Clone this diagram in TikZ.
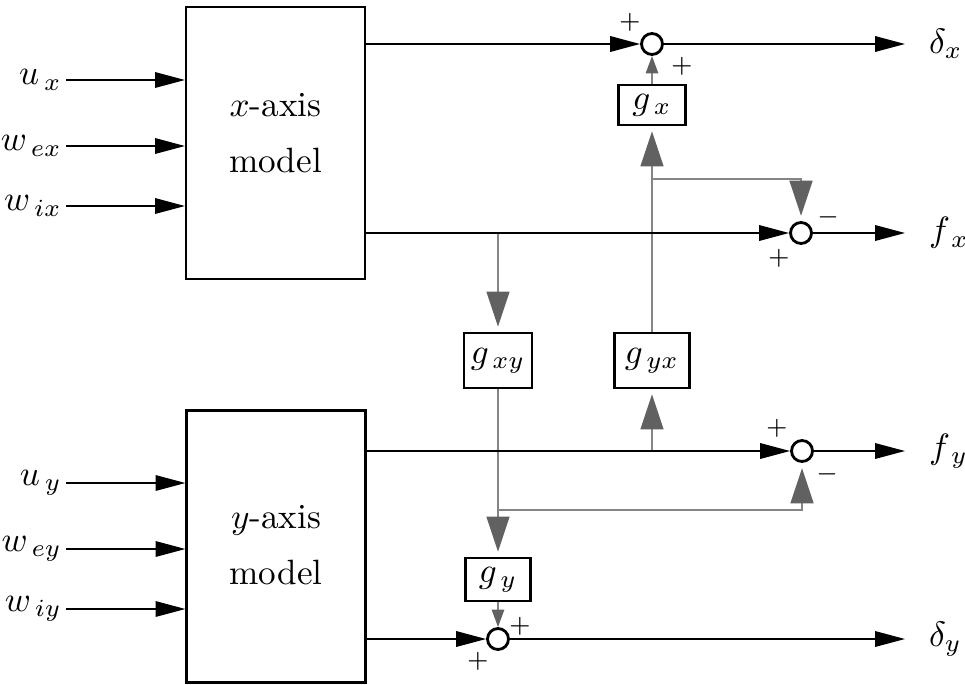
\documentclass[tikz,border=0pt]{standalone}
\usepackage{amsmath}
\usepackage{xcolor}
\usepackage{tikz}
\usetikzlibrary{arrows.meta, positioning, calc}

\definecolor{wiregray}{gray}{0.52}
\definecolor{tipgray}{gray}{0.38}

\tikzset{
  model/.style={draw, line width=0.6pt, minimum width=1.79cm,
    minimum height=2.72cm, inner sep=0pt},
  gain/.style={draw, line width=0.6pt, minimum height=0.55cm, inner sep=0pt},
  sumpt/.style={draw, circle, line width=0.8pt, minimum size=2.1mm, inner sep=0pt},
  sign/.style={font=\fontsize{7}{8}\selectfont, inner sep=0pt},
  inlab/.style={anchor=east, inner sep=1pt},
  outlab/.style={anchor=west, inner sep=1pt},
  blkwire/.style={line width=0.5pt, -{Triangle[length=8.5pt, width=4.4pt]}},
  graywire/.style={wiregray, line width=0.6pt, shorten >=1.5pt,
    -{Triangle[length=10pt, width=6.5pt, color=tipgray]}},
  smallwire/.style={wiregray, line width=0.6pt,
    -{Triangle[length=5pt, width=3.5pt, color=tipgray]}},
}

\begin{document}
\begin{tikzpicture}
  \useasboundingbox (0,0) rectangle (9.65,-6.84);

  %% Axis models
  \node[model] (xmod) at (2.755,-1.43) {};
  \node[align=center] (xtxt) at (2.755,-1.33) {$x$-axis\\[4pt]model};
  \node[model] (ymod) at (2.76,-5.465) {};
  \node[align=center] (ytxt) at (2.76,-5.45) {$y$-axis\\[4pt]model};

  %% Inputs
  \foreach \lab/\nm/\yy in {u_{\,x}/ux/0.80, w_{\,ex}/wex/1.46, w_{\,ix}/wix/2.06}{
    \node[inlab] (\nm) at (0.66,-\yy) {$\lab$};
    \draw[blkwire] (\nm) -- (\nm -| xmod.west);
  }
  \foreach \lab/\nm/\yy in {u_{\,y}/uy/4.83, w_{\,ey}/wey/5.49, w_{\,iy}/wiy/6.09}{
    \node[inlab] (\nm) at (0.66,-\yy) {$\lab$};
    \draw[blkwire] (\nm) -- (\nm -| ymod.west);
  }

  %% Summing junctions
  \node[sumpt] (s1) at (6.52,-0.44) {};
  \node[sumpt] (s2) at (8.01,-2.33) {};
  \node[sumpt] (s3) at (8.02,-4.51) {};
  \node[sumpt] (s4) at (4.98,-6.39) {};

  %% Gains
  \node[gain, minimum width=0.67cm, minimum height=0.40cm] (gx) at (6.52,-1.05) {$g_{\,x}$};
  \node[gain, minimum width=0.68cm] (gxy) at (4.98,-3.605) {$g_{\,xy}$};
  \node[gain, minimum width=0.75cm] (gyx) at (6.52,-3.605) {$g_{\,yx}$};
  \node[gain, minimum width=0.65cm, minimum height=0.43cm] (gy) at (4.98,-5.795) {$g_{\,y}$};

  %% Output ends and labels
  \coordinate (dxend) at (9.05,-0.44);
  \coordinate (fxend) at (9.05,-2.33);
  \coordinate (fyend) at (9.05,-4.51);
  \coordinate (dyend) at (9.05,-6.39);
  \node[outlab, right=0.2cm of dxend] (dx) {$\delta_x$};
  \node[outlab, right=0.2cm of fxend] (fx) {$f_{\,x}$};
  \node[outlab, right=0.2cm of fyend] (fy) {$f_{\,y}$};
  \node[outlab, right=0.2cm of dyend] (dy) {$\delta_y$};

  %% Cross couplings (gray)
  \coordinate (xbr) at (gxy |- s2);
  \coordinate (ybr) at (gyx |- s3);
  \coordinate (bx) at (6.52,-1.79);
  \coordinate (by) at (4.98,-5.10);
  \draw[graywire] (xbr) -- (gxy);
  \draw[graywire] (ybr) -- (gyx);
  \draw[graywire] (gyx) -- (gx);
  \draw[graywire] (bx) -| (s2);
  \draw[graywire] (gxy) -- (gy);
  \draw[graywire] (by) -| (s3);
  \draw[smallwire] (gx) -- (s1);
  \draw[smallwire] (gy) -- (s4);

  %% Model outputs (black)
  \draw[blkwire] (xmod.east |- s1) -- (s1);
  \draw[blkwire] (s1) -- (dxend);
  \draw[blkwire] (xmod.east |- s2) -- (s2);
  \draw[blkwire] (s2) -- (fxend);
  \draw[blkwire] (ymod.east |- s3) -- (s3);
  \draw[blkwire] (s3) -- (fyend);
  \draw[blkwire] (ymod.east |- s4) -- (s4);
  \draw[blkwire] (s4) -- (dyend);

  %% Signs
  \node[sign] (s1a) at ($(s1)+(-0.22,0.22)$) {$+$};
  \node[sign] (s1b) at ($(s1)+(0.30,-0.22)$) {$+$};
  \node[sign] (s2a) at ($(s2)+(0.27,0.16)$) {$-$};
  \node[sign] (s2b) at ($(s2)+(-0.22,-0.25)$) {$+$};
  \node[sign] (s3a) at ($(s3)+(-0.25,0.23)$) {$+$};
  \node[sign] (s3b) at ($(s3)+(0.25,-0.23)$) {$-$};
  \node[sign] (s4a) at ($(s4)+(0.22,0.13)$) {$+$};
  \node[sign] (s4b) at ($(s4)+(-0.20,-0.22)$) {$+$};
\end{tikzpicture}
\end{document}
